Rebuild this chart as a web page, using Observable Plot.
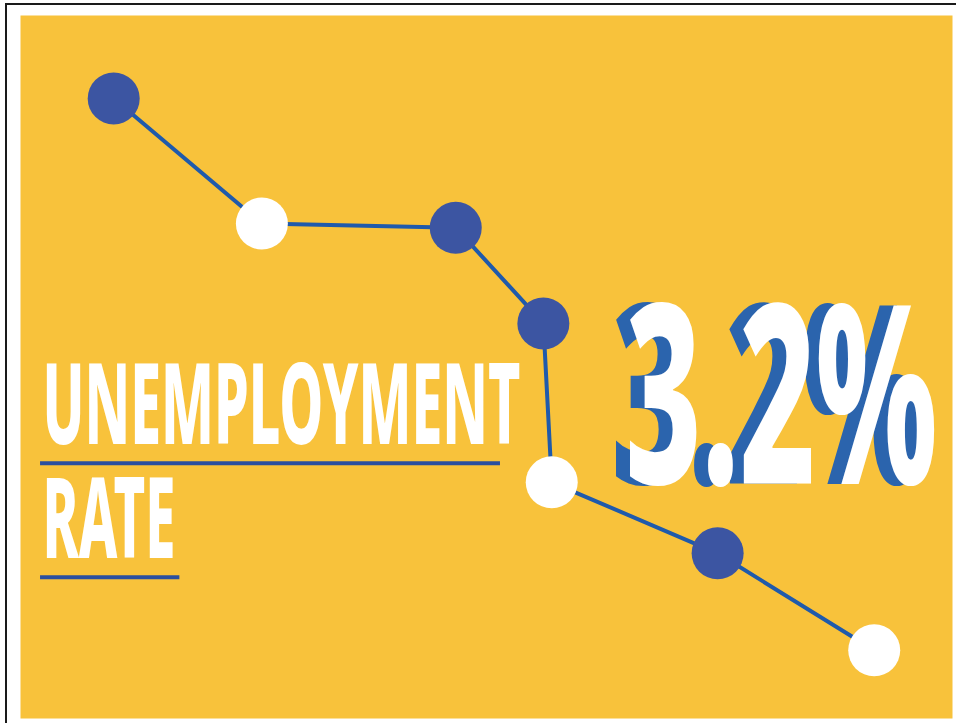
<!DOCTYPE html>
<html>
<head>
<meta charset="utf-8">
<script src="https://cdn.jsdelivr.net/npm/d3@7"></script>
<script src="https://cdn.jsdelivr.net/npm/@observablehq/plot@0.6"></script>
<style>
  html, body { margin: 0; padding: 0; background: #ffffff; }
  #wrap { position: relative; width: 956px; height: 723px; overflow: hidden; }
  #edge { position: absolute; left: 5px; top: 3px; right: 0; bottom: 0;
          border-top: 2px solid #1a1a1a; border-left: 2px solid #1a1a1a; pointer-events: none; }
  svg text { font-stretch: 62.5%; font-variation-settings: "wdth" 62.5; }
</style>
</head>
<body>
<div id="wrap"><div id="edge"></div></div>
<script>
// Decorative trend line: position along the period (0-100) and relative level (0-100)
const period = [10.0, 25.9, 46.7, 56.1, 57.0, 74.8, 91.6];
const level  = [88.2, 70.4, 69.8, 56.2, 33.6, 23.5, 9.7];
const kind   = ["dark", "light", "dark", "dark", "light", "dark", "light"];

const titleLines = ["UNEMPLOYMENT", "RATE"];
const headline = ["3.2%"];

const points = period.map((p, i) => ({period: p, level: level[i], kind: kind[i]}));

const yellow = "#f8c23b";
const lineBlue = "#1f5aab";
const shadowBlue = "#2b64ad";
const font = "'Noto Sans', 'DejaVu Sans Condensed', sans-serif";

const plot = Plot.plot({
  width: 956,
  height: 723,
  marginLeft: 20,
  marginRight: 4,
  marginTop: 15,
  marginBottom: 5,
  x: {domain: [0, 100], axis: null},
  y: {domain: [0, 100], axis: null},
  color: {domain: ["dark", "light"], range: ["#3c55a2", "#ffffff"]},
  style: {background: "transparent", fontFamily: font},
  marks: [
    Plot.frame({fill: yellow, stroke: null}),
    // underlines
    Plot.ruleY([36.3], {x1: 2.15, x2: 51.5, stroke: "#2b4f9e", strokeWidth: 4}),
    Plot.ruleY([20.1], {x1: 2.15, x2: 17.1, stroke: "#2b4f9e", strokeWidth: 4}),
    // title
    Plot.text([titleLines[0]], {x: 2.36, y: 39.1, text: d => d, textAnchor: "start", lineAnchor: "bottom",
      fill: "#ffffff", fontSize: 112, fontWeight: 800}),
    Plot.text([titleLines[1]], {x: 2.36, y: 22.9, text: d => d, textAnchor: "start", lineAnchor: "bottom",
      fill: "#ffffff", fontSize: 112, fontWeight: 800}),
    // headline with shadow
    Plot.text(headline, {x: 64.9, y: 33.4, text: d => d, dx: -14, textAnchor: "start", lineAnchor: "bottom",
      fill: shadowBlue, fontSize: 250, fontWeight: 800}),
    Plot.text(headline, {x: 64.9, y: 33.4, text: d => d, textAnchor: "start", lineAnchor: "bottom",
      fill: "#ffffff", fontSize: 250, fontWeight: 800}),
    // line and dots
    Plot.line(points, {x: "period", y: "level", stroke: lineBlue, strokeWidth: 4}),
    Plot.dot(points, {x: "period", y: "level", r: 26, fill: "kind", stroke: null})
  ]
});

// fit the condensed lettering to its measured widths
const widths = {"UNEMPLOYMENT": 478, "RATE": 133, "3.2%": 312};
plot.querySelectorAll("text").forEach(t => {
  const w = widths[t.textContent];
  if (w) {
    t.setAttribute("textLength", w);
    t.setAttribute("lengthAdjust", "spacingAndGlyphs");
  }
});

document.getElementById("wrap").prepend(plot);
</script>
</body>
</html>
